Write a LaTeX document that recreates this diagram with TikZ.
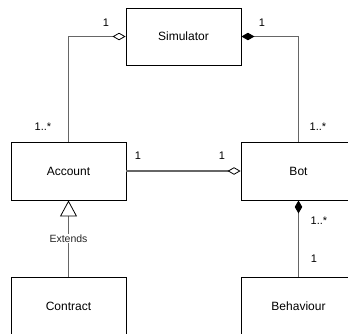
\documentclass[tikz,border=0pt]{standalone}
\usepackage{fontspec}
\setmainfont{Liberation Sans}
\usetikzlibrary{arrows.meta}
\begin{document}
\begin{tikzpicture}[x=1pt,y=-1pt,
  cls/.style={draw=black, line width=0.9pt, fill=white, minimum width=115pt, minimum height=58pt, inner sep=0pt, font=\fontsize{12}{14}\selectfont},
  conn/.style={draw=black!60, line width=1.1pt},
  mult/.style={font=\fontsize{11}{13}\selectfont, inner sep=0pt},
  agg/.style={-{Diamond[open, length=13pt, width=7.5pt, fill=white, color=black, line width=0.8pt]}},
  comp/.style={-{Diamond[length=13pt, width=7.5pt, color=black]}},
  inh/.style={-{Triangle[open, length=16pt, width=17pt, fill=white, color=black, line width=0.8pt]}}
]
\clip (0,0) rectangle (348,333);
\fill[white] (0,0) rectangle (348,333);
\node[cls, minimum height=57pt] (sim) at (183.5,36.5) {Simulator};
\node[cls] (acc) at (68.5,171) {Account};
\node[cls] (bot) at (298.5,171) {Bot};
\node[cls] (con) at (68.5,306) {Contract};
\node[cls] (beh) at (298.5,306) {Behaviour};

\draw[conn, agg] (acc.north) |- (sim.west);
\draw[conn, comp] (bot.north) |- (sim.east);
\draw[conn, agg] (acc.east) -- (bot.west);
\draw[conn, comp] (beh.north) -- (bot.south);
\draw[conn, inh] (con.north) -- node[pos=0.5, fill=white, inner sep=1pt, font=\fontsize{10.5}{12}\selectfont, text=black!85] (ext) {Extends} (acc.south);

\node[mult] (m1) at (106,22.5) {1};
\node[mult] (m2) at (262,22.5) {1};
\node[mult] (m3) at (43,127) {1..*};
\node[mult] (m4) at (318,127) {1..*};
\node[mult] (m5) at (138,156) {1};
\node[mult] (m6) at (222,156) {1};
\node[mult] (m7) at (319,221) {1..*};
\node[mult] (m8) at (314,259) {1};
\end{tikzpicture}
\end{document}
